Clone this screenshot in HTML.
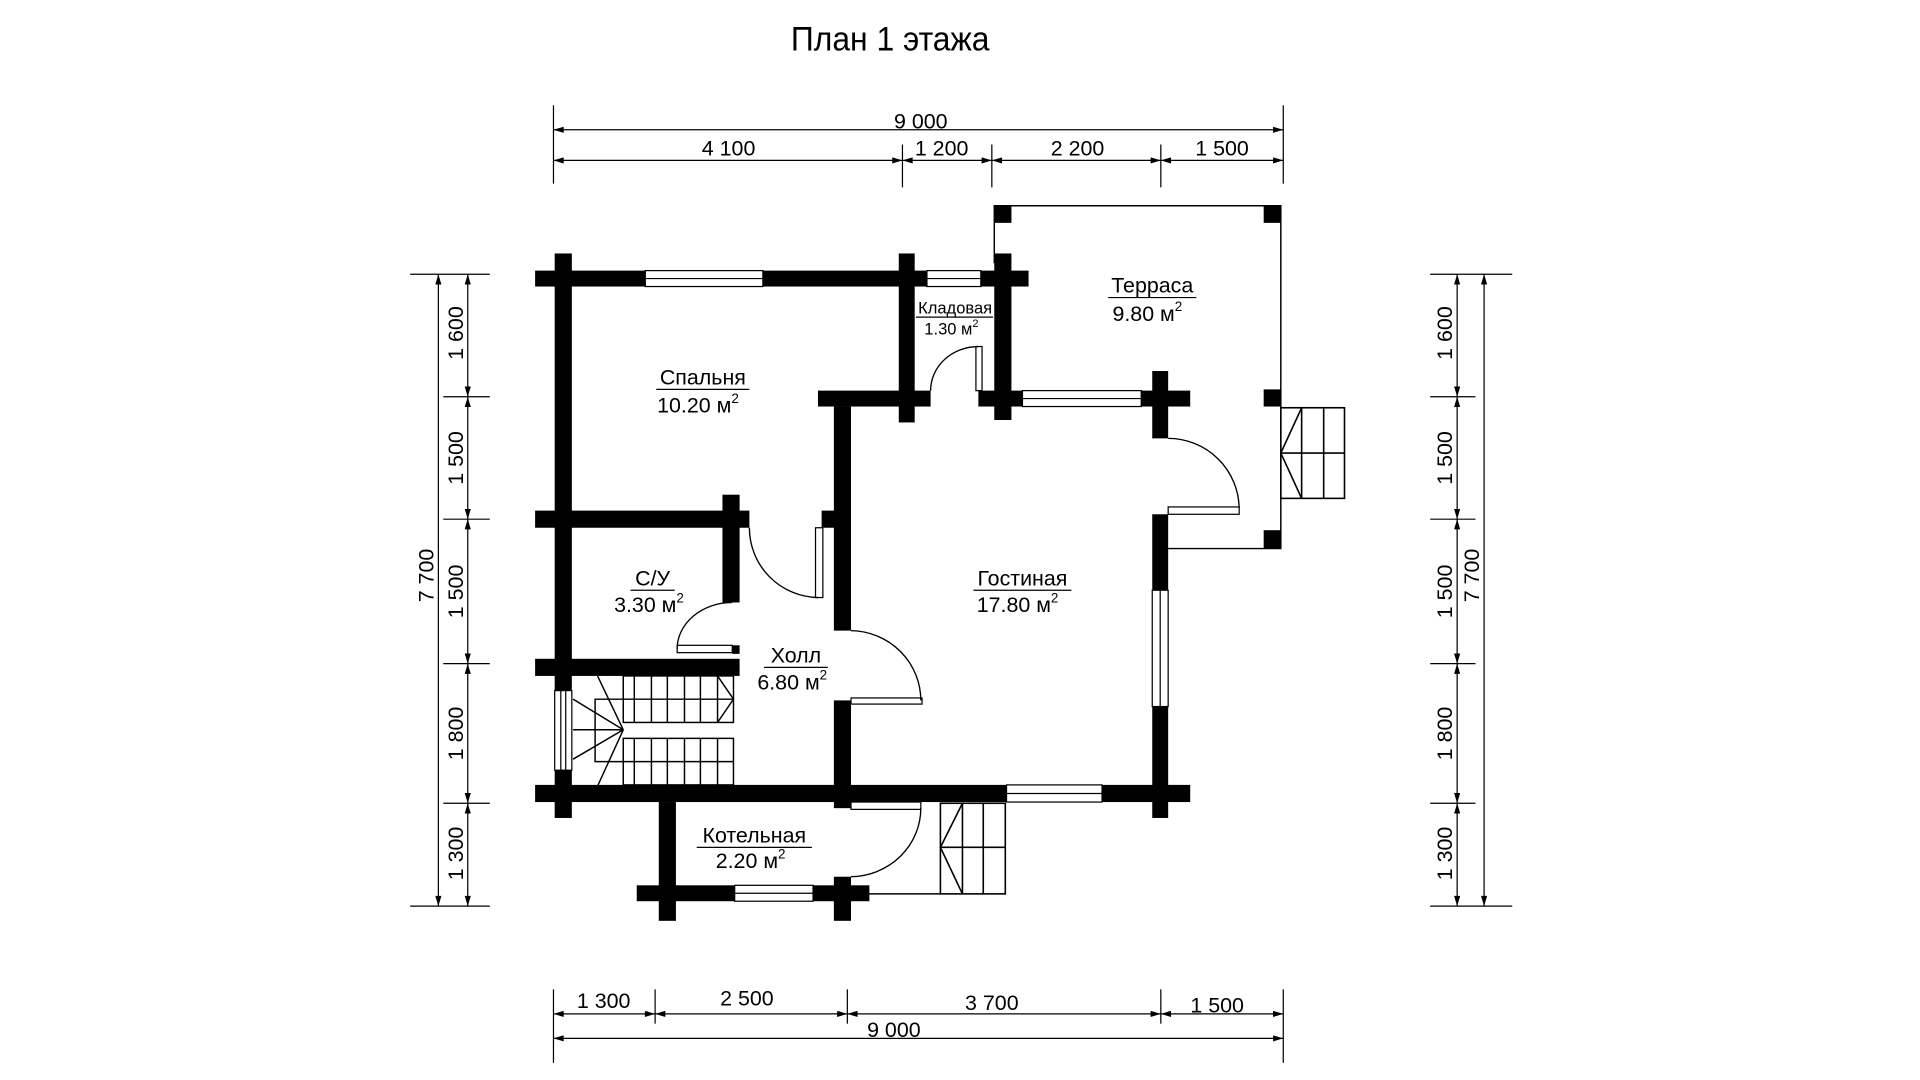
<!DOCTYPE html>
<html><head><meta charset="utf-8"><style>
html,body{margin:0;padding:0;background:#fff;width:1920px;height:1080px;overflow:hidden}
svg{display:block}
text{font-family:"Liberation Sans",sans-serif;fill:#000}
</style></head><body>
<svg width="1920" height="1080" viewBox="0 0 1568 882" preserveAspectRatio="none" xmlns="http://www.w3.org/2000/svg">
<defs>
<marker id="a" viewBox="0 0 10 6" refX="10" refY="3" markerWidth="9" markerHeight="5" markerUnits="userSpaceOnUse" orient="auto-start-reverse"><path d="M0,0L10,3L0,6z" fill="#000"/></marker>
</defs>
<rect width="1568" height="882" fill="#fff"/>
<text x="727" y="41" font-size="26" text-anchor="middle" transform="translate(727,0) scale(1,1.08) translate(-727,-3)">План 1 этажа</text>

<g stroke="#000" stroke-width="1" fill="none">
<line x1="452" y1="86" x2="452" y2="150"/><line x1="1048" y1="86" x2="1048" y2="150"/>
<line x1="737" y1="118" x2="737" y2="153"/><line x1="810" y1="118" x2="810" y2="153"/><line x1="948" y1="118" x2="948" y2="153"/>
<line x1="452" y1="106" x2="1048" y2="106" marker-start="url(#a)" marker-end="url(#a)"/>
<line x1="452" y1="131" x2="737" y2="131" marker-start="url(#a)" marker-end="url(#a)"/>
<line x1="737" y1="131" x2="810" y2="131" marker-start="url(#a)" marker-end="url(#a)"/>
<line x1="810" y1="131" x2="948" y2="131" marker-start="url(#a)" marker-end="url(#a)"/>
<line x1="948" y1="131" x2="1048" y2="131" marker-start="url(#a)" marker-end="url(#a)"/>
<line x1="452" y1="808" x2="452" y2="868"/><line x1="1048" y1="808" x2="1048" y2="868"/>
<line x1="535" y1="808" x2="535" y2="836"/><line x1="692" y1="808" x2="692" y2="836"/><line x1="948" y1="808" x2="948" y2="836"/>
<line x1="452" y1="828" x2="535" y2="828" marker-start="url(#a)" marker-end="url(#a)"/>
<line x1="535" y1="828" x2="692" y2="828" marker-start="url(#a)" marker-end="url(#a)"/>
<line x1="692" y1="828" x2="948" y2="828" marker-start="url(#a)" marker-end="url(#a)"/>
<line x1="948" y1="828" x2="1048" y2="828" marker-start="url(#a)" marker-end="url(#a)"/>
<line x1="452" y1="848" x2="1048" y2="848" marker-start="url(#a)" marker-end="url(#a)"/>
<line x1="335" y1="224" x2="400" y2="224"/><line x1="335" y1="740" x2="400" y2="740"/>
<line x1="362" y1="324" x2="400" y2="324"/><line x1="362" y1="424" x2="400" y2="424"/><line x1="362" y1="542" x2="400" y2="542"/><line x1="362" y1="656" x2="400" y2="656"/>
<line x1="358" y1="224" x2="358" y2="740" marker-start="url(#a)" marker-end="url(#a)"/>
<line x1="382" y1="224" x2="382" y2="324" marker-start="url(#a)" marker-end="url(#a)"/>
<line x1="382" y1="324" x2="382" y2="424" marker-start="url(#a)" marker-end="url(#a)"/>
<line x1="382" y1="424" x2="382" y2="542" marker-start="url(#a)" marker-end="url(#a)"/>
<line x1="382" y1="542" x2="382" y2="656" marker-start="url(#a)" marker-end="url(#a)"/>
<line x1="382" y1="656" x2="382" y2="740" marker-start="url(#a)" marker-end="url(#a)"/>
<line x1="1168" y1="224" x2="1235" y2="224"/><line x1="1168" y1="740" x2="1235" y2="740"/>
<line x1="1168" y1="324" x2="1205" y2="324"/><line x1="1168" y1="424" x2="1205" y2="424"/><line x1="1168" y1="542" x2="1205" y2="542"/><line x1="1168" y1="656" x2="1205" y2="656"/>
<line x1="1212" y1="224" x2="1212" y2="740" marker-start="url(#a)" marker-end="url(#a)"/>
<line x1="1190" y1="224" x2="1190" y2="324" marker-start="url(#a)" marker-end="url(#a)"/>
<line x1="1190" y1="324" x2="1190" y2="424" marker-start="url(#a)" marker-end="url(#a)"/>
<line x1="1190" y1="424" x2="1190" y2="542" marker-start="url(#a)" marker-end="url(#a)"/>
<line x1="1190" y1="542" x2="1190" y2="656" marker-start="url(#a)" marker-end="url(#a)"/>
<line x1="1190" y1="656" x2="1190" y2="740" marker-start="url(#a)" marker-end="url(#a)"/>
</g>
<g font-size="17.5" text-anchor="middle">
<text x="752" y="105">9 000</text>
<text x="595" y="127">4 100</text><text x="769" y="127">1 200</text><text x="880" y="127">2 200</text><text x="998" y="127">1 500</text>
<text x="493" y="823">1 300</text><text x="610" y="821">2 500</text><text x="810" y="825">3 700</text><text x="994" y="827">1 500</text>
<text x="730" y="847">9 000</text>
<text transform="translate(378,272) rotate(-90)">1 600</text>
<text transform="translate(378,374) rotate(-90)">1 500</text>
<text transform="translate(378,483) rotate(-90)">1 500</text>
<text transform="translate(378,599) rotate(-90)">1 800</text>
<text transform="translate(378,697) rotate(-90)">1 300</text>
<text transform="translate(354,470) rotate(-90)">7 700</text>
<text transform="translate(1186,272) rotate(-90)">1 600</text>
<text transform="translate(1186,374) rotate(-90)">1 500</text>
<text transform="translate(1186,483) rotate(-90)">1 500</text>
<text transform="translate(1186,599) rotate(-90)">1 800</text>
<text transform="translate(1186,697) rotate(-90)">1 300</text>
<text transform="translate(1208,470) rotate(-90)">7 700</text>
</g>

<g stroke="#000" stroke-width="1.2" fill="none">
<polyline points="812,215 812,168 1046,168 1046,448 954,448"/>
</g>
<g fill="#000">
<rect x="812" y="168" width="14" height="14"/><rect x="1032" y="168" width="14" height="14"/>
<rect x="1032" y="318" width="14" height="14"/><rect x="1032" y="433" width="14" height="15"/>
</g>
<g stroke="#000" stroke-width="1.3" fill="none">
<rect x="1046" y="333" width="52" height="74"/>
<line x1="1063" y1="333" x2="1063" y2="407"/><line x1="1081" y1="333" x2="1081" y2="407"/>
<line x1="1046" y1="370" x2="1098" y2="370"/>
<polyline points="1063,333 1046,370 1063,407"/>
<rect x="768" y="656" width="53" height="74"/>
<line x1="786" y1="656" x2="786" y2="730"/><line x1="803" y1="656" x2="803" y2="730"/>
<line x1="768" y1="692" x2="821" y2="692"/>
<polyline points="786,656 768,692 786,730"/>
<line x1="708" y1="730" x2="768" y2="730"/>
</g>

<g fill="#000">
<rect x="453" y="207" width="14" height="461"/>
<rect x="437" y="221" width="403" height="13"/>
<rect x="734" y="207" width="13" height="138"/>
<rect x="812" y="207" width="14" height="136"/>
<rect x="668" y="319" width="92" height="13"/>
<rect x="799" y="319" width="173" height="13"/>
<rect x="941" y="303" width="13" height="55"/>
<rect x="941" y="420" width="13" height="248"/>
<rect x="681" y="332" width="14" height="183"/>
<rect x="671" y="417" width="12" height="14"/>
<rect x="681" y="572" width="14" height="88"/>
<rect x="437" y="417" width="175" height="14"/>
<rect x="590" y="404" width="14" height="88"/>
<rect x="598" y="527" width="6" height="7"/>
<rect x="437" y="538" width="167" height="14"/>
<rect x="437" y="641" width="535" height="14"/>
<rect x="538" y="655" width="14" height="97"/>
<rect x="520" y="723" width="190" height="13"/>
<rect x="681" y="716" width="14" height="36"/>
</g>
<g fill="#fff" stroke="#000" stroke-width="1">
<rect x="527" y="221" width="96" height="13"/><line x1="527" y1="227.5" x2="623" y2="227.5"/>
<rect x="757" y="221" width="44" height="13"/><line x1="757" y1="227.5" x2="801" y2="227.5"/>
<rect x="835" y="319" width="97" height="13"/><line x1="835" y1="325.5" x2="932" y2="325.5"/>
<rect x="941" y="482" width="13" height="95"/><line x1="947.5" y1="482" x2="947.5" y2="577"/>
<rect x="822" y="641" width="78" height="14"/><line x1="822" y1="648" x2="900" y2="648"/>
<rect x="600" y="723" width="64" height="13"/><line x1="600" y1="729.5" x2="664" y2="729.5"/>
<rect x="453" y="564" width="14" height="65"/><line x1="458" y1="564" x2="458" y2="629"/><line x1="462" y1="564" x2="462" y2="629"/>
</g>
<g fill="#fff" stroke="#000" stroke-width="1">
<rect x="797" y="283" width="5" height="36"/>
<rect x="954" y="414" width="58" height="6"/>
<rect x="666" y="431" width="6" height="57"/>
<rect x="553" y="527" width="45" height="6"/>
<rect x="695" y="570" width="58" height="5"/>
<rect x="695" y="655" width="57" height="6"/>
</g>
<g fill="none" stroke="#000" stroke-width="1.1">
<path d="M760,319 A39,36 0 0 1 799,283"/>
<path d="M954,358 A58,58 0 0 1 1012,415"/>
<path d="M612,431 A57,57 0 0 0 668,488"/>
<path d="M553,530 A45,38 0 0 1 598,492"/>
<path d="M695,515 A58,57 0 0 1 752,572"/>
<path d="M752,660 A58,56 0 0 1 695,716"/>
</g>
<g stroke="#000" stroke-width="1.2" fill="none">
<rect x="509" y="552" width="90" height="38"/>
<line x1="509" y1="571" x2="599" y2="571"/>
<line x1="518" y1="552" x2="518" y2="590"/><line x1="532" y1="552" x2="532" y2="590"/><line x1="545" y1="552" x2="545" y2="590"/><line x1="559" y1="552" x2="559" y2="590"/><line x1="572" y1="552" x2="572" y2="590"/><line x1="586" y1="552" x2="586" y2="590"/>
<polyline points="586,552 599,571 586,590"/>
<rect x="509" y="603" width="90" height="38"/>
<line x1="509" y1="622" x2="599" y2="622"/>
<line x1="518" y1="603" x2="518" y2="641"/><line x1="532" y1="603" x2="532" y2="641"/><line x1="545" y1="603" x2="545" y2="641"/><line x1="559" y1="603" x2="559" y2="641"/><line x1="572" y1="603" x2="572" y2="641"/><line x1="586" y1="603" x2="586" y2="641"/>
<polyline points="509,571 486,571 486,622 509,622"/>
<line x1="509" y1="596" x2="488" y2="552"/><line x1="509" y1="596" x2="468" y2="571"/><line x1="509" y1="596" x2="468" y2="596"/><line x1="509" y1="596" x2="468" y2="620"/><line x1="509" y1="596" x2="488" y2="642"/>
</g>

<g text-anchor="middle" font-size="17.5">
<text x="574" y="314">Спальня</text><line x1="536" y1="318" x2="612" y2="318" stroke="#000"/>
<text x="570" y="337">10.20 м<tspan font-size="11" dy="-8">2</tspan></text>
<text x="941" y="239">Терраса</text><line x1="905" y1="243" x2="977" y2="243" stroke="#000"/>
<text x="937" y="262">9.80 м<tspan font-size="11" dy="-8">2</tspan></text>
<text x="533" y="478">С/У</text><line x1="515" y1="482" x2="551" y2="482" stroke="#000"/>
<text x="530" y="500">3.30 м<tspan font-size="11" dy="-8">2</tspan></text>
<text x="650" y="541">Холл</text><line x1="624" y1="545" x2="676" y2="545" stroke="#000"/>
<text x="647" y="563">6.80 м<tspan font-size="11" dy="-8">2</tspan></text>
<text x="835" y="478">Гостиная</text><line x1="795" y1="482" x2="875" y2="482" stroke="#000"/>
<text x="831" y="500">17.80 м<tspan font-size="11" dy="-8">2</tspan></text>
<text x="616" y="688">Котельная</text><line x1="569" y1="692" x2="663" y2="692" stroke="#000"/>
<text x="613" y="709">2.20 м<tspan font-size="11" dy="-8">2</tspan></text>
</g>
<g text-anchor="middle" font-size="13.5">
<text x="780" y="256">Кладовая</text><line x1="748" y1="259" x2="811" y2="259" stroke="#000"/>
<text x="777" y="273">1.30 м<tspan font-size="9" dy="-6">2</tspan></text>
</g>
</svg>
</body></html>
